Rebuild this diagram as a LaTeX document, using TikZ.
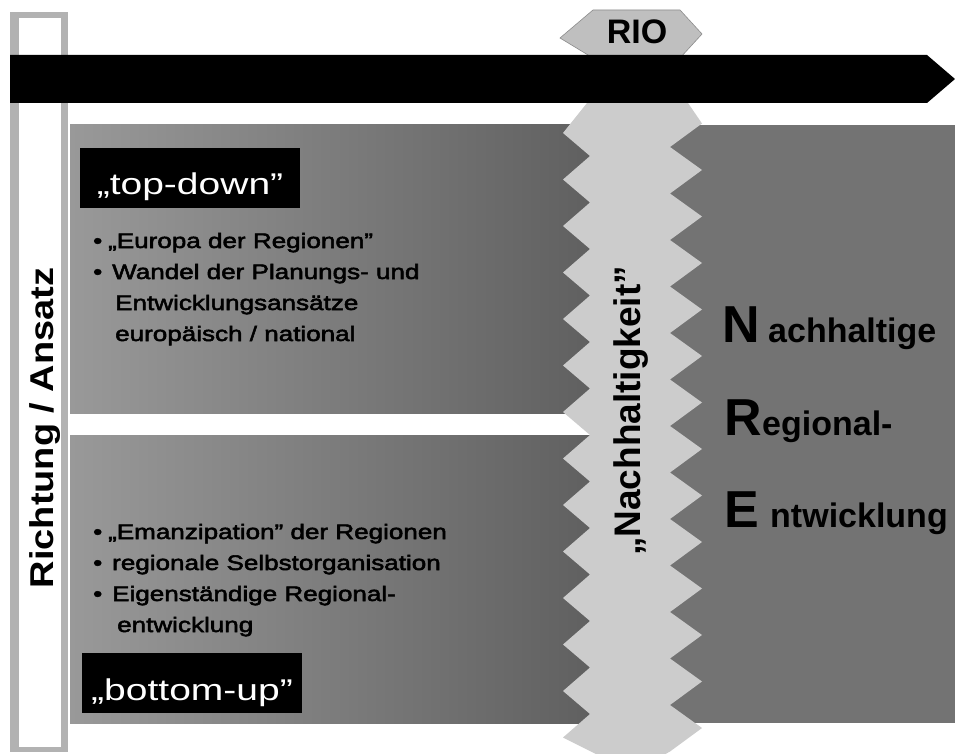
\documentclass[tikz,border=0pt]{standalone}
\usepackage{fontspec}
\setmainfont{Liberation Sans}
\newfontfamily\lsans[FakeStretch=1.24,FakeBold=2.5]{Liberation Sans}
\newfontfamily\tsans[FakeStretch=1.3]{Liberation Sans}
\newfontfamily\rsans[FakeStretch=1.15]{Liberation Sans}
\tikzset{
  panelL/.style={left color=black!40, right color=black!63},
  panelR/.style={fill=black!55},
  bandfill/.style={fill=black!20},
  framefill/.style={fill=black!30},
  lblbox/.style={fill=black, text=white, inner sep=0pt, text width=220pt, align=center,
    font=\tsans\fontsize{30}{36}\selectfont, anchor=base},
  bul/.style={anchor=base west, inner sep=0pt, text=black,
    font=\lsans\fontsize{21}{25}\selectfont},
  bigl/.style={anchor=base west, inner sep=0pt, font=\bfseries\fontsize{52}{60}\selectfont},
  smalll/.style={anchor=base west, inner sep=0pt, font=\bfseries\fontsize{34}{40}\selectfont},
}
\begin{document}
\begin{tikzpicture}[x=1pt,y=-1pt]
\useasboundingbox (0,0) rectangle (955,754);
\fill[white] (0,0) rectangle (955,754);
% panels
\fill[panelL] (70,125) rectangle (605,413);
\fill[panelL] (70,435) rectangle (605,723);
\fill[panelR] (650,125) rectangle (955,723);
% zigzag band
\fill[bandfill] (587,103) -- (688,103)
  \foreach \k in {0,1,...,13} { -- (702,{123.5+46.5*\k}) -- (670,{147+46.5*\k}) }
  -- (662,756) -- (600,756)
  \foreach \k in {13,12,...,1} { -- (563,{133+46.5*\k}) -- (590,{156+46.5*(\k-1)}) }
  -- (563,133) -- cycle;
% left frame
\fill[framefill] (10,12) rectangle (68,752);
\fill[white] (19,18) rectangle (61,747);
% RIO hexagon
\filldraw[fill=black!25, draw=black!45, line width=0.6pt]
  (593,10) -- (680,10) -- (702,34) -- (680,58) -- (593,58) -- (560,38) -- cycle;
\node[anchor=base, inner sep=0pt, font=\bfseries\fontsize{34}{40}\selectfont] (rio) at (637,44) {RIO};
% black arrow bar
\fill[black] (10,55) -- (927,55) -- (955,79) -- (927,103) -- (10,103) -- cycle;
% vertical texts
\node[anchor=base, rotate=90, inner sep=0pt, font=\rsans\bfseries\fontsize{33}{40}\selectfont] (rich) at (53,428) {Richtung / Ansatz};
\node[anchor=base, rotate=90, inner sep=0pt, font=\bfseries\fontsize{37}{44}\selectfont] (nach) at (640,411) {„Nachhaltigkeit”};
% label boxes
\node[lblbox, text height=46pt, text depth=14pt] (td) at (190,194) {„top-down”};
\node[lblbox, text height=47pt, text depth=13pt] (bu) at (192,700) {„bottom-up”};
% upper bullets
\node[bul] (b1) at (93,248) {\makebox[15pt][l]{•}„Europa der Regionen”};
\node[bul] (b2) at (93,279) {\makebox[19pt][l]{•}Wandel der Planungs- und};
\node[bul] (b3) at (115,310) {Entwicklungsansätze};
\node[bul] (b4) at (115,341) {europäisch / national};
% lower bullets
\node[bul] (c1) at (93,539) {\makebox[15pt][l]{•}„Emanzipation” der Regionen};
\node[bul] (c2) at (93,570) {\makebox[19pt][l]{•}regionale Selbstorganisation};
\node[bul] (c3) at (93,601) {\makebox[19pt][l]{•}Eigenständige Regional-};
\node[bul] (c4) at (117,632) {entwicklung};
% right texts
\node[bigl] (N) at (722,342) {N};
\node[smalll] (n2) at (768,342) {achhaltige};
\node[bigl] (R) at (724,435) {R};
\node[smalll] (r2) at (762,435) {egional-};
\node[bigl] (E) at (724,527) {E};
\node[smalll] (e2) at (770,527) {ntwicklung};
\end{tikzpicture}
\end{document}
